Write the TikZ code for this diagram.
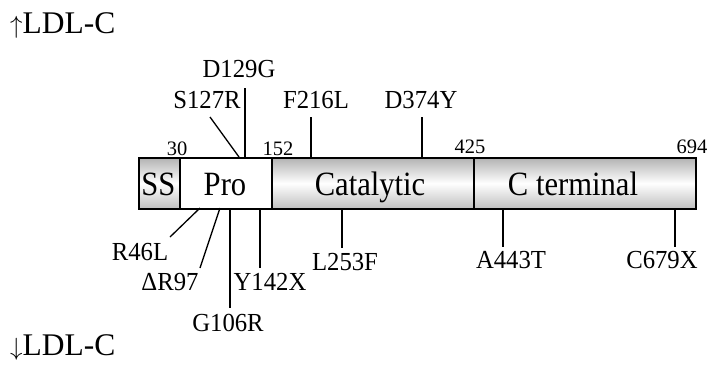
\documentclass[tikz,border=0pt]{standalone}
\usepackage{fontspec}
\setmainfont{Liberation Serif}
\newcommand\domtxt[1]{\scalebox{0.9}[1]{#1}}
\newcommand\muttxt[1]{\scalebox{0.95}[1]{#1}}
\begin{document}
\begin{tikzpicture}[x=1pt,y=-1pt,
  dom/.style={draw, line width=1.6pt, minimum height=51pt, inner sep=0pt, anchor=north west},
  shd/.style={top color=gray!60, bottom color=gray!50, middle color=white},
  mut/.style={font=\fontsize{26}{29}\selectfont, inner sep=0pt, anchor=base},
  num/.style={font=\fontsize{20.5}{22}\selectfont, inner sep=0pt, anchor=base},
  big/.style={font=\fontsize{34}{37}\selectfont, inner sep=0pt, anchor=base},
  ldl/.style={font=\fontsize{31.5}{34}\selectfont, inner sep=0pt, anchor=base west},
  tick/.style={line width=1.3pt}]
\useasboundingbox (0,0) rectangle (710,365);
% bar
\node[dom, shd, minimum width=41pt] (ss) at (138,157) {};
\node[dom, fill=white, minimum width=92pt] (pro) at (179,157) {};
\node[dom, shd, minimum width=202pt] (cat) at (271,157) {};
\node[dom, shd, minimum width=222pt] (cter) at (473,157) {};
\node[big] (sst) at (158.5,195.5) {\domtxt{SS}};
\node[big] (prot) at (225,195.5) {\domtxt{Pro}};
\node[big] (catt) at (370,195.5) {\domtxt{Catalytic}};
\node[big] (ctert) at (573,195.5) {\domtxt{C terminal}};
% numbers
\node[num] (n30) at (177,155) {30};
\node[num] (n152) at (278,155) {152};
\node[num] (n425) at (470,153) {425};
\node[num] (n694) at (692,153) {694};
% LDL labels
\node[ldl] (up) at (10,33) {$\uparrow$LDL-C};
\node[ldl] (down) at (10,355) {$\downarrow$LDL-C};
% top mutations
\node[mut] (d129g) at (239,77) {\muttxt{D129G}};
\node[mut] (s127r) at (207,108) {\muttxt{S127R}};
\node[mut] (f216l) at (316,108) {\muttxt{F216L}};
\node[mut] (d374y) at (421,108) {\muttxt{D374Y}};
\coordinate (d129ga) at (245,88);  \coordinate (d129gb) at (245,157);
\coordinate (s127ra) at (210,117); \coordinate (s127rb) at (239,157);
\coordinate (f216la) at (311,117); \coordinate (f216lb) at (311,157);
\coordinate (d374ya) at (422,117); \coordinate (d374yb) at (422,157);
\draw[tick] (d129ga) -- (d129gb);
\draw[tick] (s127ra) -- (s127rb);
\draw[tick] (f216la) -- (f216lb);
\draw[tick] (d374ya) -- (d374yb);
% bottom mutations
\node[mut] (r46l) at (140,260) {\muttxt{R46L}};
\node[mut] (dr97) at (170,290) {\muttxt{ΔR97}};
\node[mut] (g106r) at (228,331) {\muttxt{G106R}};
\node[mut] (y142x) at (270,290) {\muttxt{Y142X}};
\node[mut] (l253f) at (345,270) {\muttxt{L253F}};
\node[mut] (a443t) at (511,268) {\muttxt{A443T}};
\node[mut] (c679x) at (662,268) {\muttxt{C679X}};
\coordinate (r46la) at (200,208); \coordinate (r46lb) at (170,237);
\coordinate (dr97a) at (220,208); \coordinate (dr97b) at (200,268);
\coordinate (g106ra) at (230,208); \coordinate (g106rb) at (230,308);
\coordinate (y142xa) at (260,208); \coordinate (y142xb) at (260,268);
\coordinate (l253fa) at (342,208); \coordinate (l253fb) at (342,248);
\coordinate (a443ta) at (503,208); \coordinate (a443tb) at (503,247);
\coordinate (c679xa) at (675,208); \coordinate (c679xb) at (675,247);
\draw[tick] (r46la) -- (r46lb);
\draw[tick] (dr97a) -- (dr97b);
\draw[tick] (g106ra) -- (g106rb);
\draw[tick] (y142xa) -- (y142xb);
\draw[tick] (l253fa) -- (l253fb);
\draw[tick] (a443ta) -- (a443tb);
\draw[tick] (c679xa) -- (c679xb);
\end{tikzpicture}
\end{document}
